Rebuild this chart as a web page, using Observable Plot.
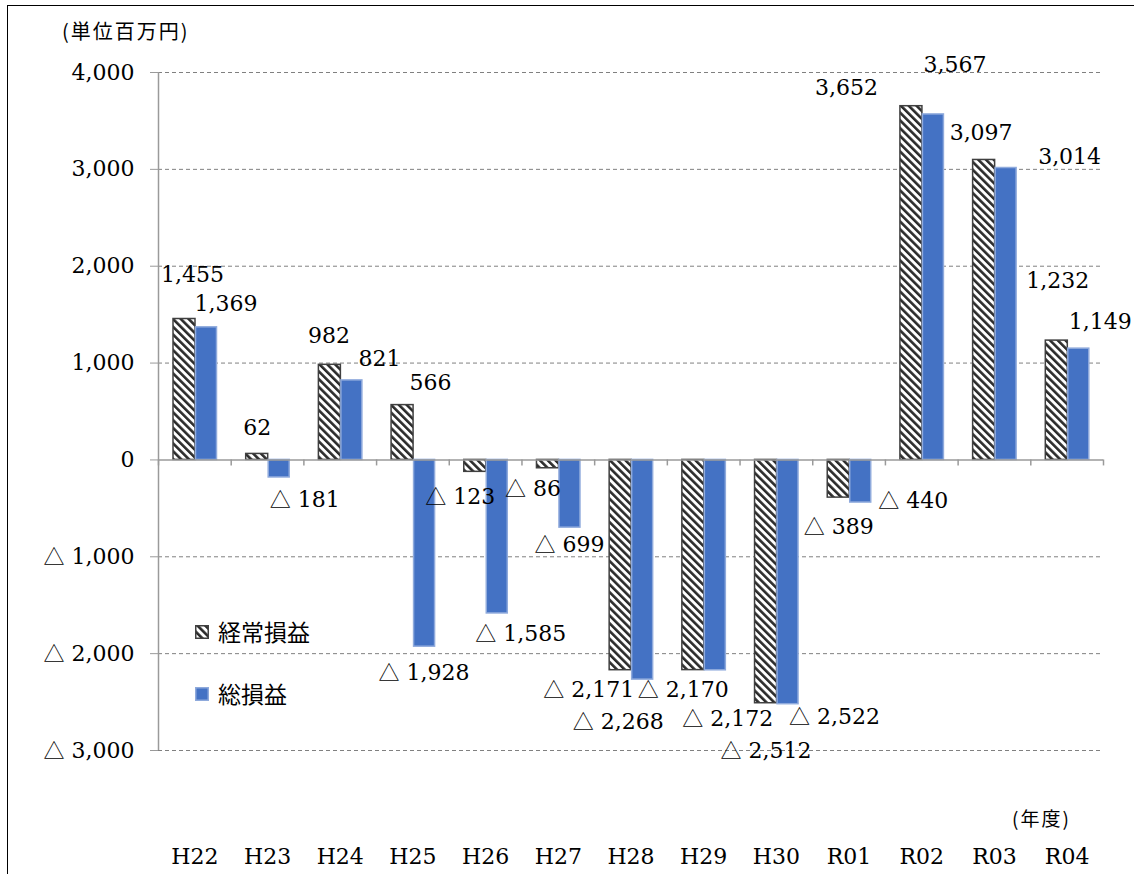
<!DOCTYPE html>
<html>
<head>
<meta charset="utf-8">
<script src="https://cdn.jsdelivr.net/npm/d3@7"></script>
<script src="https://cdn.jsdelivr.net/npm/@observablehq/plot@0.6"></script>
<style>
  body { margin: 0; background: #fff; }
  #wrap { position: relative; width: 1134px; height: 874px; overflow: hidden; background: #fff; }
  #frame { position: absolute; left: 7px; top: 5px; width: 1200px; height: 900px;
           border-top: 1.5px solid #000; border-left: 1.5px solid #000; }
  #chart { position: absolute; left: 0; top: 0; }
  .jp { position: absolute; font-family: "Noto Sans CJK JP", sans-serif; color: #000;
        white-space: nowrap; line-height: 1; }
  .leg { position: absolute; display: flex; align-items: center; gap: 9px; }
  .leg svg { display: block; }
</style>
</head>
<body>
<div id="wrap">
  <div id="frame"></div>
  <div id="chart"></div>
  <div class="jp" id="unit" style="left:62px; top:21px; font-size:20px; letter-spacing:2px;"></div>
  <div class="jp" id="yearLabel" style="left:1012px; top:808px; font-size:19px; letter-spacing:2px;"></div>
  <div id="legend"></div>
</div>
<script>
// ---- data ----
const categories = ["H22","H23","H24","H25","H26","H27","H28","H29","H30","R01","R02","R03","R04"];
const ordinaryProfit = [1455, 62, 982, 566, -123, -86, -2171, -2170, -2512, -389, 3652, 3097, 1232];
const totalProfit    = [1369, -181, 821, -1928, -1585, -699, -2268, -2172, -2522, -440, 3567, 3014, 1149];
const seriesNames = ["経常損益", "総損益"];
const yTicks = [-3000, -2000, -1000, 0, 1000, 2000, 3000, 4000];
const unitText = "(単位百万円)";
const yearText = "(年度)";

// ---- layout (label nudges in px, relative to bar end) ----
const nudgeOrdinary = [[8,-44],[0,-26],[-1,-29],[28,-22],[-15,25],[-15,21],[-32,20],[-10,20],[0,48],[0,29],[-65,-18],[-3,-27],[1,-60]];
const nudgeTotal    = [[20,-23],[26,22],[28,-21],[0,26],[24,21],[0,17],[-24,42],[13,49],[47,13],[53,-2],[22,-49],[64,-11],[22,-27]];

const W = 1134, H = 874, ML = 158, MR = 31, MT = 72, MB = 124;
const step = (W - ML - MR) / categories.length;
const serif = '"DejaVu Serif", "Noto Sans CJK JP", "DejaVu Sans", serif';
const fmtNum = d3.format(",");
const NEG = "△";
const fmt = v => v < 0 ? NEG + " " + fmtNum(-v) : fmtNum(v);

const rowsA = categories.map((c, i) => ({cat: c, v: ordinaryProfit[i], i}));
const rowsB = categories.map((c, i) => ({cat: c, v: totalProfit[i], i}));

const blackCenter = 26 - step / 2;   // offset of hatched bar centre from band centre
const blueCenter = 47.5 - step / 2;

const labelMarks = [];
rowsA.forEach((r, i) => labelMarks.push(Plot.text([r], {
  x: "cat", y: "v", text: d => fmt(d.v),
  dx: blackCenter + nudgeOrdinary[i][0], dy: nudgeOrdinary[i][1],
  textAnchor: "middle", lineAnchor: "middle", fill: "#000", fontFamily: serif, fontSize: 22
})));
rowsB.forEach((r, i) => labelMarks.push(Plot.text([r], {
  x: "cat", y: "v", text: d => fmt(d.v),
  dx: blueCenter + nudgeTotal[i][0], dy: nudgeTotal[i][1],
  textAnchor: "middle", lineAnchor: "middle", fill: "#000", fontFamily: serif, fontSize: 22
})));

const svg = Plot.plot({
  width: W, height: H,
  marginLeft: ML, marginRight: MR, marginTop: MT, marginBottom: MB,
  style: {fontFamily: serif, fontSize: "22px", color: "#000", background: "transparent", overflow: "visible"},
  x: {type: "band", domain: categories, padding: 0, align: 0.5, round: false},
  y: {domain: [yTicks[0], yTicks[yTicks.length - 1]]},
  marks: [
    Plot.ruleY(yTicks.filter(t => t !== 0), {stroke: "#808080", strokeWidth: 1, strokeDasharray: "4,3"}),
    Plot.barY(rowsA, {x: "cat", y: "v", fill: "url(#hatch)", stroke: "#404040", strokeWidth: 1.5,
                      insetLeft: 15, insetRight: step - 37}),
    Plot.barY(rowsB, {x: "cat", y: "v", fill: "#4472C4", stroke: "#8FAADC", strokeWidth: 1.5,
                      insetLeft: 37.5, insetRight: step - 58.5}),
    Plot.ruleY([0], {stroke: "#9a9a9a", strokeWidth: 1.5}),
    Plot.ruleX(categories, {x: d => d, y1: 0, y2: 0, dx: -step / 2, insetBottom: -6, stroke: "#9a9a9a", strokeWidth: 1.5}),
    Plot.ruleX([categories[categories.length - 1]], {x: d => d, y1: 0, y2: 0, dx: step / 2, insetBottom: -6, stroke: "#9a9a9a", strokeWidth: 1.5}),
    Plot.ruleX([categories[0]], {x: d => d, y1: yTicks[0], y2: yTicks[yTicks.length - 1], dx: -step / 2, stroke: "#9a9a9a", strokeWidth: 1.5}),
    Plot.axisY({ticks: yTicks, tickFormat: fmt, tickSize: 8, tickPadding: 16, stroke: "#9a9a9a", fill: "#000",
                fontFamily: serif, fontSize: 22, label: null}),
    Plot.axisX({tickSize: 0, tickPadding: 98, fill: "#000", fontFamily: serif, fontSize: 22, label: null}),
    ...labelMarks
  ]
});

d3.select(svg).insert("defs", ":first-child").html(
  '<pattern id="hatch" patternUnits="userSpaceOnUse" width="5.5" height="5.5" patternTransform="rotate(-45)">' +
  '<rect width="5.5" height="5.5" fill="#fff"/><rect width="2.6" height="5.5" fill="#2b2b2b"/></pattern>'
);

// render the negative-sign triangle larger (as in the original typeface)
d3.select(svg).selectAll("text").each(function () {
  const t = this.textContent;
  if (t.startsWith(NEG) && this.children.length === 0) {
    const rest = t.slice(NEG.length);
    this.textContent = "";
    const a = document.createElementNS("http://www.w3.org/2000/svg", "tspan");
    a.setAttribute("font-family", '"Noto Sans CJK JP", sans-serif');
    a.setAttribute("font-size", "21");
    a.textContent = NEG;
    const b = document.createElementNS("http://www.w3.org/2000/svg", "tspan");
    b.textContent = rest;
    this.appendChild(a);
    this.appendChild(b);
  }
});

document.getElementById("chart").appendChild(svg);

document.getElementById("unit").textContent = unitText;
document.getElementById("yearLabel").textContent = yearText;

// legend
const legend = document.getElementById("legend");
const legendItems = [
  {name: seriesNames[0], fill: "url(#hatch)", stroke: "#404040", top: 620},
  {name: seriesNames[1], fill: "#4472C4", stroke: "#8FAADC", top: 682}
];
legendItems.forEach(it => {
  const div = document.createElement("div");
  div.className = "leg";
  div.style.left = "195px";
  div.style.top = it.top + "px";
  div.innerHTML = `<svg width="14" height="14"><rect x="0.75" y="0.75" width="12.5" height="12.5" fill="${it.fill}" stroke="${it.stroke}" stroke-width="1.5"/></svg>` +
    `<span class="jp" style="position:static;font-size:23px;">${it.name}</span>`;
  legend.appendChild(div);
});
</script>
</body>
</html>
